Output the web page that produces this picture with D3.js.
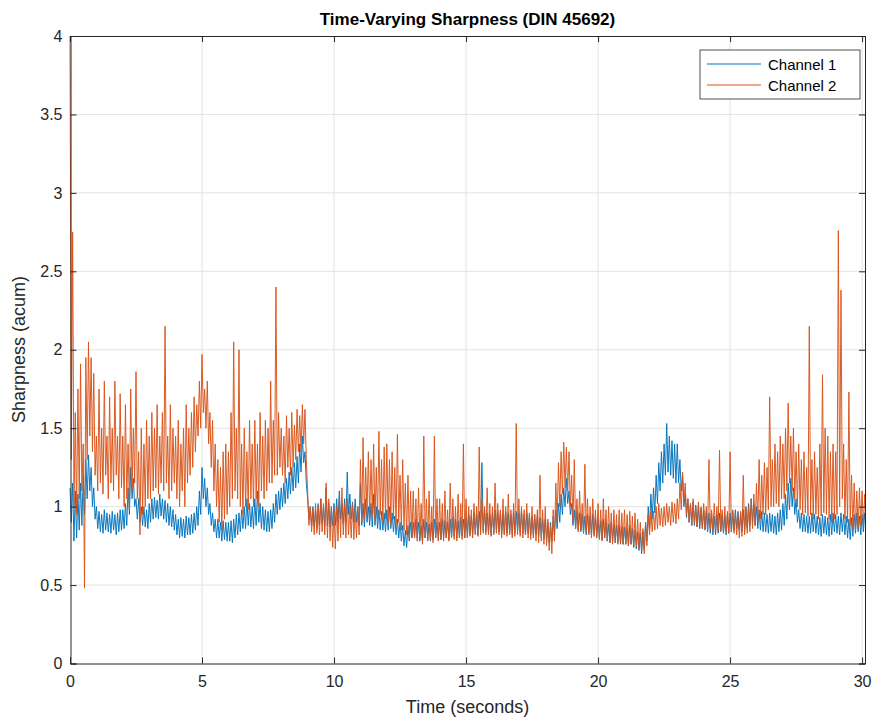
<!DOCTYPE html>
<html>
<head>
<meta charset="utf-8">
<script src="https://cdn.jsdelivr.net/npm/d3@7"></script>
<style>
  body { margin: 0; background: #fff; }
  svg { display: block; font-family: "Liberation Sans", Arial, Helvetica, sans-serif; }
</style>
</head>
<body>
<svg id="chart" width="876" height="720"></svg>
<script>
// ---- Data: per 0.1 s bin, upper and lower extent of each noisy trace ----
const binStep = 0.1; // seconds per bin
const seriesNames = ["Channel 1", "Channel 2"];
const xTicks = [0, 5, 10, 15, 20, 25, 30];
const yTicks = [0, 0.5, 1, 1.5, 2, 2.5, 3, 3.5, 4];

const channel1High = [
  1.12, 1.15, 1.10, 1.08, 1.15, 1.20, 1.30, 1.33, 1.25, 1.12,
  1.00, 0.97, 0.95, 0.98, 0.96, 0.95, 0.97, 0.95, 0.96, 0.98,
  0.98, 1.02, 1.12, 1.25, 1.18, 1.05, 1.05, 1.00, 1.00, 0.98,
  1.02, 1.05, 1.06, 1.04, 1.08, 1.05, 1.04, 1.02, 1.00, 0.98,
  0.95, 0.92, 0.93, 0.92, 0.94, 0.93, 0.95, 0.96, 1.00, 1.10,
  1.25, 1.18, 1.12, 1.02, 0.96, 0.92, 0.92, 0.90, 0.91, 0.90,
  0.90, 0.91, 0.92, 0.95, 0.96, 0.98, 1.00, 1.05, 1.02, 1.00,
  1.05, 1.10, 1.02, 1.00, 0.98, 0.97, 0.98, 1.02, 1.08, 1.10,
  1.12, 1.15, 1.18, 1.22, 1.25, 1.28, 1.32, 1.40, 1.45, 1.35,
  1.05, 1.00, 1.00, 0.98, 1.02, 1.05, 1.00, 1.12, 1.02, 1.00,
  1.02, 1.05, 1.10, 1.02, 1.05, 1.22, 1.08, 1.03, 1.05, 1.00,
  1.15, 1.02, 1.05, 1.00, 1.02, 1.08, 1.00, 0.98, 0.97, 0.96,
  0.98, 1.00, 0.96, 0.94, 0.92, 0.90, 0.88, 0.85, 0.88, 0.90,
  0.90, 0.92, 0.90, 0.88, 0.92, 0.90, 0.89, 0.90, 0.92, 0.90,
  0.90, 0.92, 0.91, 0.90, 0.92, 0.93, 0.92, 0.91, 0.93, 0.92,
  0.93, 0.95, 0.94, 0.96, 0.95, 0.97, 1.28, 0.98, 0.96, 0.95,
  0.96, 0.98, 0.97, 0.96, 0.95, 0.97, 0.96, 0.95, 0.96, 0.97,
  0.96, 0.97, 0.95, 0.96, 0.95, 0.94, 0.95, 0.94, 0.93, 0.92,
  0.92, 0.90, 0.90, 0.94, 0.98, 1.02, 1.08, 1.12, 1.18, 1.10,
  1.02, 0.98, 0.97, 0.96, 0.95, 0.94, 0.95, 0.94, 0.95, 0.93,
  0.92, 0.91, 0.92, 0.90, 0.89, 0.90, 0.89, 0.88, 0.88, 0.87,
  0.87, 0.86, 0.88, 0.86, 0.85, 0.84, 0.83, 0.84, 0.90, 1.00,
  1.08, 1.12, 1.20, 1.28, 1.35, 1.40, 1.53, 1.45, 1.42, 1.40,
  1.40, 1.30, 1.20, 1.08, 1.05, 1.02, 1.03, 1.01, 1.00, 0.99,
  0.98, 0.97, 0.96, 0.95, 0.94, 0.95, 0.96, 0.95, 0.94, 0.95,
  0.96, 0.97, 0.98, 0.97, 0.96, 0.98, 1.00, 1.02, 1.05, 1.02,
  1.00, 0.98, 0.97, 0.96, 0.95, 0.96, 0.95, 0.94, 0.96, 0.98,
  1.02, 1.08, 1.15, 1.18, 1.12, 1.05, 0.98, 0.96, 0.95, 0.94,
  0.94, 0.96, 0.95, 0.94, 0.93, 0.95, 0.94, 0.93, 0.95, 0.96,
  0.95, 0.94, 0.96, 0.95, 0.94, 0.92, 0.93, 0.95, 0.96, 0.94,
  0.95, 0.96
];
const channel1Low = [
  0.90, 0.78, 0.80, 0.85, 0.88, 0.95, 1.05, 1.10, 1.00, 0.92,
  0.86, 0.84, 0.83, 0.85, 0.84, 0.83, 0.85, 0.82, 0.84, 0.85,
  0.86, 0.88, 0.95, 1.05, 1.00, 0.92, 0.90, 0.88, 0.87, 0.86,
  0.90, 0.92, 0.93, 0.92, 0.94, 0.92, 0.90, 0.88, 0.87, 0.85,
  0.82, 0.80, 0.81, 0.80, 0.82, 0.82, 0.83, 0.85, 0.88, 0.95,
  1.05, 1.00, 0.95, 0.88, 0.84, 0.80, 0.80, 0.78, 0.79, 0.78,
  0.78, 0.77, 0.80, 0.82, 0.84, 0.86, 0.86, 0.88, 0.87, 0.86,
  0.88, 0.90, 0.86, 0.85, 0.84, 0.84, 0.86, 0.90, 0.95, 0.98,
  1.00, 1.02, 1.05, 1.08, 1.10, 1.12, 1.15, 1.22, 1.28, 1.15,
  0.92, 0.88, 0.87, 0.86, 0.88, 0.89, 0.87, 0.88, 0.87, 0.88,
  0.88, 0.90, 0.92, 0.89, 0.90, 0.95, 0.92, 0.90, 0.90, 0.88,
  0.88, 0.87, 0.90, 0.88, 0.87, 0.88, 0.86, 0.85, 0.85, 0.84,
  0.85, 0.86, 0.84, 0.82, 0.80, 0.78, 0.75, 0.74, 0.78, 0.80,
  0.80, 0.80, 0.78, 0.77, 0.80, 0.79, 0.78, 0.79, 0.80, 0.79,
  0.79, 0.80, 0.80, 0.79, 0.80, 0.81, 0.80, 0.80, 0.81, 0.80,
  0.81, 0.82, 0.82, 0.83, 0.82, 0.84, 0.85, 0.84, 0.83, 0.82,
  0.83, 0.84, 0.84, 0.83, 0.82, 0.83, 0.83, 0.82, 0.83, 0.84,
  0.83, 0.83, 0.82, 0.83, 0.82, 0.81, 0.82, 0.81, 0.80, 0.79,
  0.79, 0.77, 0.78, 0.82, 0.86, 0.90, 0.95, 1.00, 1.02, 0.95,
  0.88, 0.86, 0.85, 0.84, 0.83, 0.82, 0.83, 0.82, 0.82, 0.81,
  0.80, 0.79, 0.80, 0.78, 0.77, 0.78, 0.77, 0.77, 0.76, 0.76,
  0.76, 0.75, 0.76, 0.74, 0.73, 0.72, 0.70, 0.72, 0.78, 0.86,
  0.92, 0.96, 1.02, 1.10, 1.15, 1.20, 1.22, 1.20, 1.18, 1.15,
  1.15, 1.10, 1.00, 0.93, 0.90, 0.88, 0.88, 0.87, 0.86, 0.86,
  0.85, 0.84, 0.83, 0.82, 0.82, 0.83, 0.84, 0.83, 0.82, 0.83,
  0.84, 0.85, 0.86, 0.85, 0.84, 0.85, 0.86, 0.88, 0.90, 0.88,
  0.86, 0.85, 0.84, 0.84, 0.83, 0.84, 0.83, 0.82, 0.84, 0.85,
  0.88, 0.92, 0.98, 1.00, 0.95, 0.90, 0.86, 0.84, 0.84, 0.83,
  0.83, 0.84, 0.83, 0.82, 0.81, 0.83, 0.82, 0.81, 0.82, 0.84,
  0.83, 0.82, 0.84, 0.82, 0.80, 0.79, 0.81, 0.83, 0.84, 0.82,
  0.84, 0.86
];

const channel2High = [
  4.00, 2.75, 1.60, 1.75, 1.91, 1.40, 1.95, 2.05, 1.95, 1.85,
  1.45, 1.75, 1.50, 1.80, 1.45, 1.70, 1.50, 1.80, 1.45, 1.72,
  1.45, 1.65, 1.40, 1.75, 1.50, 1.86, 1.35, 1.50, 1.40, 1.55,
  1.45, 1.60, 1.50, 1.65, 1.45, 1.60, 2.15, 1.45, 1.65, 1.50,
  1.45, 1.55, 1.40, 1.50, 1.65, 1.50, 1.60, 1.70, 1.65, 1.80,
  1.97, 1.75, 1.80, 1.60, 1.55, 1.40, 1.30, 1.25, 1.35, 1.40,
  1.35, 1.60, 2.05, 1.50, 2.00, 1.40, 1.50, 1.35, 1.55, 1.40,
  1.55, 1.40, 1.60, 1.45, 1.55, 1.50, 1.80, 1.55, 2.40, 1.60,
  1.50, 1.45, 1.58, 1.50, 1.60, 1.52, 1.62, 1.58, 1.65, 1.62,
  1.10, 1.00, 0.98, 1.02, 1.00, 1.05, 1.02, 1.15, 1.05, 1.00,
  0.98, 1.00, 1.05, 1.12, 1.02, 1.05, 1.00, 1.02, 0.98, 1.00,
  1.30, 1.44, 1.25, 1.35, 1.30, 1.40, 1.25, 1.48, 1.30, 1.38,
  1.40, 1.30, 1.35, 1.25, 1.46, 1.20, 1.30, 1.15, 1.20, 1.10,
  1.10, 1.05, 1.12, 1.02, 1.45, 1.05, 1.10, 1.00, 1.45, 1.05,
  1.05, 1.02, 1.10, 0.98, 1.15, 1.05, 1.00, 1.08, 1.02, 1.40,
  1.05, 1.00, 0.98, 1.02, 1.00, 1.38, 1.05, 1.00, 1.12, 1.02,
  1.00, 1.15, 1.02, 0.98, 1.05, 1.00, 1.08, 0.98, 1.02, 1.53,
  1.05, 1.00, 0.98, 1.02, 0.96, 1.00, 0.95, 0.98, 1.20, 0.98,
  1.00, 0.92, 0.88, 0.98, 1.15, 1.28, 1.35, 1.41, 1.38, 1.35,
  1.20, 1.30, 1.05, 1.10, 1.02, 1.27, 1.05, 1.00, 1.05, 0.98,
  1.02, 0.98, 1.05, 0.98, 1.00, 0.96, 0.98, 0.95, 0.98, 0.96,
  0.98, 0.95, 0.97, 0.94, 0.96, 0.92, 0.90, 0.86, 0.90, 0.95,
  0.98, 0.97, 1.00, 1.02, 0.99, 1.00, 1.02, 1.00, 1.03, 1.02,
  1.05, 1.15, 1.22, 1.15, 1.05, 1.02, 1.05, 1.00, 1.03, 1.00,
  1.02, 1.00, 1.30, 0.98, 1.02, 1.00, 1.36, 0.98, 1.00, 0.97,
  1.35, 0.98, 0.96, 0.95, 0.97, 1.20, 0.98, 1.00, 1.05, 1.08,
  1.15, 1.30, 1.20, 1.28, 1.25, 1.70, 1.30, 1.40, 1.35, 1.45,
  1.40, 1.50, 1.66, 1.45, 1.50, 1.35, 1.40, 1.30, 1.35, 1.25,
  2.15, 1.30, 1.35, 1.25, 1.40, 1.84, 1.50, 1.45, 1.35, 1.40,
  1.35, 2.76, 2.38, 1.40, 1.30, 1.73, 1.20, 1.15, 1.10, 1.12,
  1.10, 1.08
];
const channel2Low = [
  1.30, 1.00, 0.95, 1.05, 1.10, 0.48, 1.30, 1.45, 1.35, 1.20,
  1.10, 1.15, 1.08, 1.20, 1.05, 1.15, 1.10, 1.20, 1.05, 1.12,
  1.00, 1.05, 0.98, 1.10, 1.15, 1.05, 0.82, 0.95, 1.00, 1.05,
  1.05, 1.10, 1.12, 1.08, 1.15, 1.10, 1.15, 1.05, 1.10, 1.15,
  1.05, 1.00, 1.10, 1.00, 1.15, 1.20, 1.25, 1.35, 1.45, 1.50,
  1.60, 1.50, 1.40, 1.25, 1.10, 1.00, 0.90, 0.85, 0.92, 0.95,
  1.00, 1.05, 1.10, 1.05, 1.00, 0.95, 1.00, 0.98, 1.05, 1.00,
  1.05, 1.00, 1.10, 1.05, 1.10, 1.15, 1.15, 1.20, 1.20, 1.25,
  1.20, 1.15, 1.25, 1.20, 1.25, 1.30, 1.35, 1.35, 1.40, 1.30,
  0.88, 0.84, 0.82, 0.83, 0.82, 0.84, 0.82, 0.80, 0.78, 0.74,
  0.73, 0.78, 0.80, 0.82, 0.80, 0.82, 0.80, 0.79, 0.80, 0.82,
  0.90, 0.92, 0.95, 0.92, 0.95, 0.90, 0.92, 0.95, 0.90, 0.92,
  0.90, 0.88, 0.92, 0.88, 0.90, 0.85, 0.85, 0.82, 0.80, 0.80,
  0.80, 0.78, 0.80, 0.76, 0.80, 0.78, 0.79, 0.77, 0.80, 0.78,
  0.79, 0.78, 0.80, 0.78, 0.80, 0.79, 0.78, 0.80, 0.79, 0.80,
  0.80, 0.81, 0.80, 0.82, 0.81, 0.82, 0.83, 0.82, 0.82, 0.81,
  0.82, 0.83, 0.82, 0.80, 0.82, 0.81, 0.82, 0.80, 0.81, 0.82,
  0.81, 0.80, 0.82, 0.80, 0.79, 0.80, 0.78, 0.77, 0.78, 0.76,
  0.75, 0.72, 0.70, 0.78, 0.90, 1.00, 1.08, 1.12, 1.10, 1.00,
  0.90, 0.86, 0.84, 0.85, 0.83, 0.84, 0.82, 0.80, 0.81, 0.80,
  0.79, 0.78, 0.80, 0.78, 0.77, 0.76, 0.77, 0.76, 0.77, 0.76,
  0.76, 0.75, 0.76, 0.74, 0.75, 0.73, 0.72, 0.70, 0.75, 0.82,
  0.84, 0.85, 0.86, 0.88, 0.87, 0.88, 0.90, 0.88, 0.90, 0.89,
  0.92, 0.98, 1.02, 0.95, 0.90, 0.88, 0.89, 0.87, 0.88, 0.86,
  0.86, 0.85, 0.86, 0.84, 0.85, 0.84, 0.85, 0.83, 0.84, 0.83,
  0.84, 0.83, 0.82, 0.80, 0.81, 0.82, 0.83, 0.84, 0.86, 0.88,
  0.90, 0.92, 0.95, 0.95, 0.98, 1.00, 1.00, 1.02, 1.00, 1.05,
  1.05, 1.10, 1.15, 1.10, 1.05, 1.00, 0.98, 0.95, 0.96, 0.94,
  0.95, 0.92, 0.95, 0.92, 0.94, 0.96, 0.95, 0.92, 0.90, 0.92,
  0.95, 1.00, 1.05, 0.92, 0.90, 0.88, 0.86, 0.85, 0.86, 0.88,
  0.88, 0.90
];

const seriesHigh = [channel1High, channel2High];
const seriesLow = [channel1Low, channel2Low];
const seriesColors = ["#0072BD", "#D95319"];

// Trace each bin top -> bottom so the dense signal fills its band
function traceOf(hi, lo) {
  const pts = [];
  hi.forEach((h, i) => {
    pts.push([i * binStep, h]);
    pts.push([i * binStep + binStep / 2, lo[i]]);
  });
  return pts;
}

// ---- Layout ----
const svg = d3.select("#chart");
const x0 = 70, x1 = 865, y0 = 663, y1 = 36;

const x = d3.scaleLinear().domain([0, 30.11]).range([x0, x1]);
const y = d3.scaleLinear().domain([0, 4]).range([y0 + 0.5, y1]);

const axisColor = "#262626";
const gridColor = "#e3e3e3";

// grid
const grid = svg.append("g");
grid.selectAll("line.gx").data(xTicks.filter(d => d > 0)).join("line")
  .attr("x1", d => x(d)).attr("x2", d => x(d))
  .attr("y1", y1).attr("y2", y0)
  .attr("stroke", gridColor).attr("stroke-width", 1);
grid.selectAll("line.gy").data(yTicks.filter(d => d > 0 && d < 4)).join("line")
  .attr("x1", x0).attr("x2", x1)
  .attr("y1", d => y(d)).attr("y2", d => y(d))
  .attr("stroke", gridColor).attr("stroke-width", 1);

// clip (a pixel wider on the left so the trace at t = 0 stays visible)
svg.append("clipPath").attr("id", "clip").append("rect")
  .attr("x", x0 - 1).attr("y", y1).attr("width", x1 - x0 + 1).attr("height", y0 - y1);

const line = d3.line().x(d => x(d[0])).y(d => y(d[1]));

const plot = svg.append("g").attr("clip-path", "url(#clip)");
seriesHigh.forEach((hi, k) => {
  plot.append("path")
    .datum(traceOf(hi, seriesLow[k]))
    .attr("d", line)
    .attr("fill", "none")
    .attr("stroke", seriesColors[k])
    .attr("stroke-width", 1)
    .attr("stroke-opacity", 0.95);
});

// axes (MATLAB style: inward ticks, box on)
const tickLen = 6;
const xAxisB = d3.axisBottom(x).tickValues(xTicks).tickSize(-tickLen).tickPadding(12).tickFormat(d3.format("d"));
const xAxisT = d3.axisTop(x).tickValues(xTicks).tickSize(-tickLen).tickFormat("");
const yAxisL = d3.axisLeft(y).tickValues(yTicks).tickSize(-tickLen).tickPadding(8).tickFormat(d => d3.format("")(d));
const yAxisR = d3.axisRight(y).tickValues(yTicks).tickSize(-tickLen).tickFormat("");

function styleAxis(g) {
  g.select(".domain").attr("stroke", axisColor).attr("stroke-width", 1);
  g.selectAll(".tick line").attr("stroke", axisColor).attr("stroke-width", 1);
  g.selectAll(".tick text").attr("fill", axisColor).attr("font-size", 16)
    .attr("font-family", "'Liberation Sans', Arial, sans-serif");
}
svg.append("g").attr("transform", `translate(0,${y0 + 0.5})`).call(xAxisB).call(styleAxis);
svg.append("g").attr("transform", `translate(0,${y1})`).call(xAxisT).call(styleAxis);
svg.append("g").attr("transform", `translate(${x0 + 0.5},0)`).call(yAxisL).call(styleAxis);
svg.append("g").attr("transform", `translate(${x1},0)`).call(yAxisR).call(styleAxis);

// title and labels
svg.append("text")
  .attr("x", (x0 + x1) / 2).attr("y", 25)
  .attr("text-anchor", "middle")
  .attr("font-size", 17).attr("font-weight", "bold").attr("fill", "#000")
  .text("Time-Varying Sharpness (DIN 45692)");

svg.append("text")
  .attr("x", (x0 + x1) / 2).attr("y", 713)
  .attr("text-anchor", "middle")
  .attr("font-size", 18).attr("fill", axisColor)
  .text("Time (seconds)");

svg.append("text")
  .attr("transform", `translate(25,${(y0 + y1) / 2}) rotate(-90)`)
  .attr("text-anchor", "middle")
  .attr("font-size", 18).attr("fill", axisColor)
  .text("Sharpness (acum)");

// legend
const lg = svg.append("g").attr("transform", "translate(700,50)");
lg.append("rect").attr("width", 160).attr("height", 49)
  .attr("fill", "#fff").attr("stroke", axisColor).attr("stroke-width", 0.8);
seriesNames.forEach((name, i) => {
  const yy = 14 + i * 21;
  lg.append("line").attr("x1", 7).attr("x2", 61).attr("y1", yy).attr("y2", yy)
    .attr("stroke", seriesColors[i]).attr("stroke-width", 1);
  lg.append("text").attr("x", 68).attr("y", yy + 5.5)
    .attr("font-size", 15).attr("fill", "#000").text(name);
});
</script>
</body>
</html>
